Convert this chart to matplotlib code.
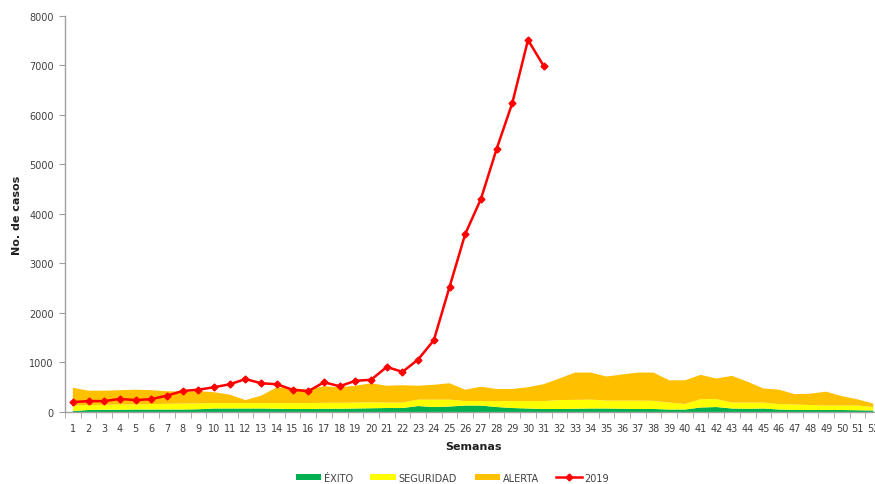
import matplotlib
matplotlib.use("Agg")
import matplotlib.pyplot as plt
from matplotlib.lines import Line2D
from matplotlib.patches import Patch
import numpy as np

weeks = list(range(1, 53))
# stacked increments of the endemic channel
exito = [20, 40, 45, 45, 50, 50, 50, 50, 55, 70, 70, 70, 70, 65, 60, 60, 65, 65, 70, 75,
         80, 80, 120, 100, 110, 130, 130, 100, 80, 70, 60, 60, 65, 70, 70, 65, 60, 60, 50, 50,
         90, 100, 70, 65, 70, 50, 40, 40, 40, 40, 35, 30]
seguridad = [110, 100, 100, 105, 105, 110, 115, 120, 120, 110, 110, 110, 110, 115, 120, 120, 120, 120, 120, 120,
             110, 110, 130, 150, 140, 90, 90, 120, 140, 150, 160, 180, 180, 180, 160, 165, 170, 165, 140, 110,
             170, 160, 120, 125, 120, 110, 110, 100, 90, 90, 95, 70]
alerta = [360, 290, 285, 290, 295, 280, 255, 240, 245, 220, 170, 60, 150, 320, 300, 270, 335, 315, 340, 385,
          340, 350, 280, 300, 330, 230, 290, 245, 245, 280, 342, 436, 552, 547, 487, 527, 567, 572, 450, 480,
          490, 416, 540, 420, 285, 290, 210, 230, 280, 190, 125, 70]
casos_2019 = [200, 220, 220, 265, 240, 260, 330, 425, 450, 500, 560, 665, 580, 560, 450, 420, 600, 520, 630, 650,
              910, 810, 1060, 1450, 2525, 3596, 4303, 5313, 6242, 7515, 6990]

fig = plt.figure(figsize=(8.75, 4.85), dpi=100)
ax = fig.add_axes([0.0743, 0.1485, 0.9327, 0.8165])

c_green = "#00B050"
c_yellow = "#FFFF00"
c_orange = "#FFC000"
c_red = "#FF0000"

ax.stackplot(weeks, exito, seguridad, alerta, colors=[c_green, c_yellow, c_orange], linewidth=0)
ax.plot(weeks[:len(casos_2019)], casos_2019, color=c_red, linewidth=1.8, marker="D", markersize=3.5,
        markerfacecolor=c_red, markeredgecolor=c_red, zorder=5)

ax.set_xlim(0.5, 52.5)
ax.set_ylim(0, 8000)
ax.set_yticks(range(0, 8001, 1000))
ax.set_xticks(weeks)
ax.set_xticklabels([str(w) for w in weeks])
ax.set_xticks(np.arange(0.5, 53, 1), minor=True)
ax.tick_params(axis="x", which="major", length=0, labelsize=7, colors="#404040", pad=8)
ax.tick_params(axis="x", which="minor", length=4, color="#A0A0A0")
ax.tick_params(axis="y", length=4, color="#A0A0A0", labelsize=7, labelcolor="#404040", pad=4)

for s in ["top", "right"]:
    ax.spines[s].set_visible(False)
for s in ["left", "bottom"]:
    ax.spines[s].set_color("#A0A0A0")
    ax.spines[s].set_linewidth(1)

ax.set_ylabel("No. de casos", fontsize=8, fontweight="bold", color="#202020", labelpad=5)
ax.set_xlabel("Semanas", fontsize=8, fontweight="bold", color="#202020", labelpad=6)

handles = [Patch(facecolor=c_green, edgecolor="none"),
           Patch(facecolor=c_yellow, edgecolor="none"),
           Patch(facecolor=c_orange, edgecolor="none"),
           Line2D([0], [0], color=c_red, linewidth=1.8, marker="D", markersize=3.5)]
labels = ["ÉXITO", "SEGURIDAD", "ALERTA", "2019"]
fig.legend(handles, labels, loc="center", bbox_to_anchor=(0.517, 0.013), ncol=4, frameon=False,
           fontsize=7, handlelength=2.6, handleheight=0.6, columnspacing=1.8, handletextpad=0.3,
           labelcolor="#404040")

fig.savefig("out.png", dpi=100)
